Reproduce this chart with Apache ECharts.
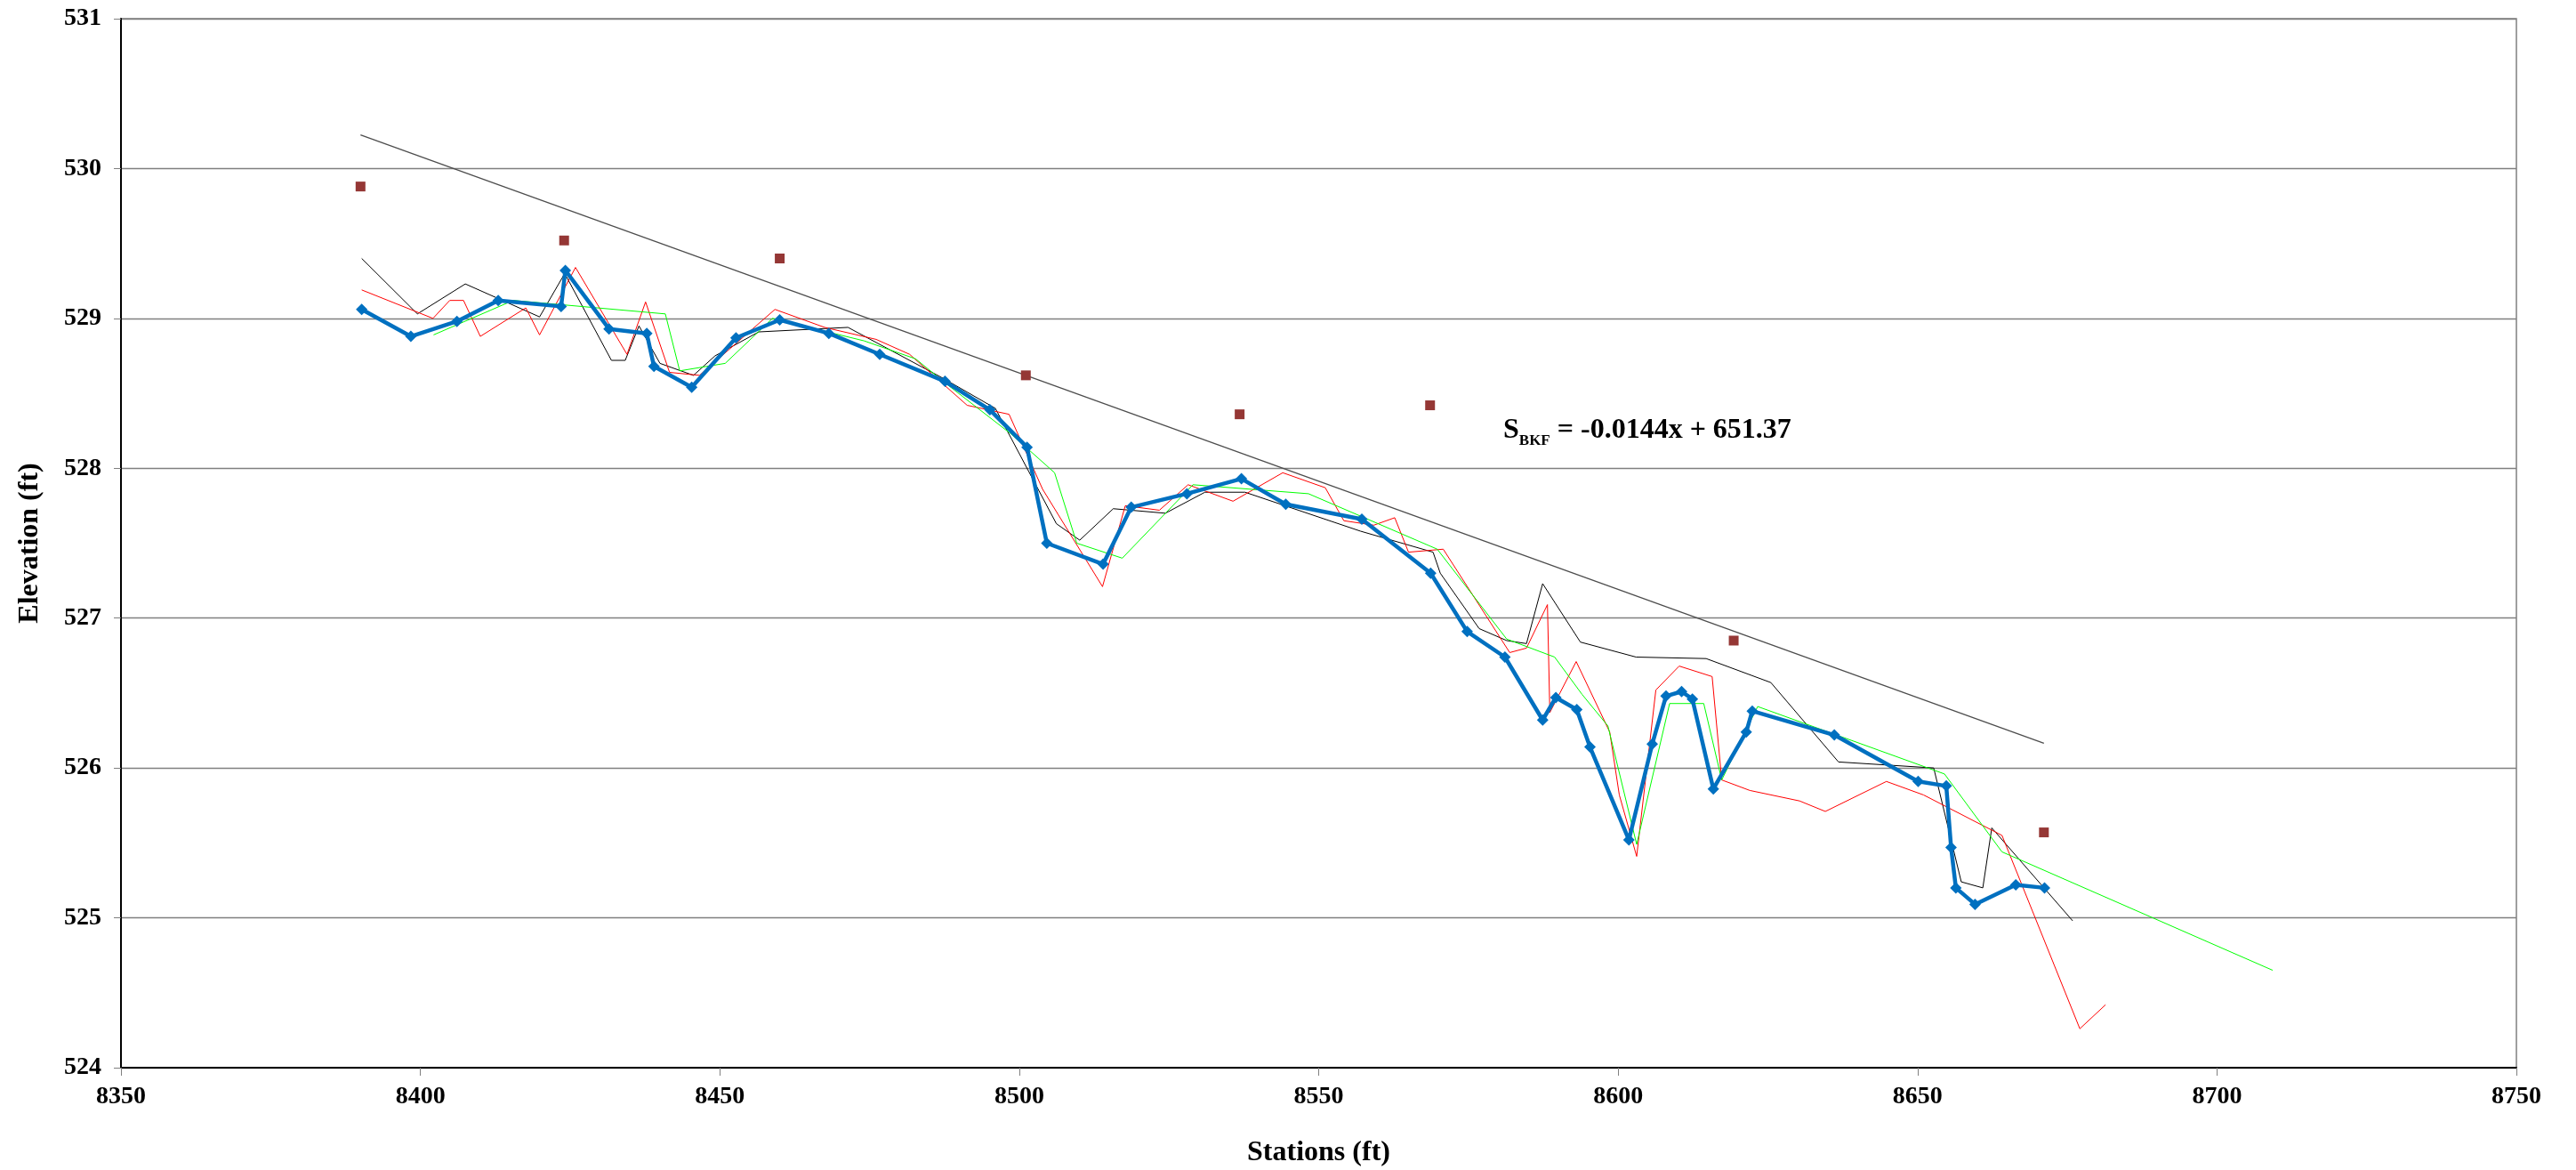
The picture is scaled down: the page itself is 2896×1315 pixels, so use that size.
<!DOCTYPE html>
<html>
<head>
<meta charset="utf-8">
<title>Profile</title>
<script src="https://cdn.jsdelivr.net/npm/echarts@6.0.0/dist/echarts.min.js"></script>
<style>
  html, body { margin: 0; padding: 0; background: #fff; }
  #chart { width: 2896px; height: 1315px; }
</style>
</head>
<body>
<div id="chart"></div>
<script>
// axis ticks
const stationTicks = [8350, 8750, 50]
const elevTicks = [524, 531, 1]

// thalweg (blue, diamonds)
const thalweg = [
  [8390.2, 529.06], [8398.4, 528.88], [8406.1, 528.98], [8413.0, 529.12], [8423.5, 529.08],
  [8424.2, 529.32], [8431.5, 528.93], [8437.8, 528.90], [8439.0, 528.68], [8445.3, 528.54],
  [8452.7, 528.87], [8460.0, 528.99], [8468.2, 528.90], [8476.7, 528.76], [8487.6, 528.58],
  [8495.1, 528.39], [8501.3, 528.14], [8504.6, 527.50], [8514.0, 527.36], [8518.7, 527.74],
  [8528.0, 527.83], [8537.1, 527.93], [8544.5, 527.76], [8557.2, 527.66], [8568.7, 527.30],
  [8574.8, 526.91], [8581.1, 526.74], [8587.4, 526.32], [8589.6, 526.47], [8593.1, 526.39],
  [8595.3, 526.14], [8601.8, 525.52], [8605.7, 526.16], [8608.0, 526.48], [8610.6, 526.51],
  [8612.4, 526.46], [8615.9, 525.86], [8621.4, 526.24], [8622.4, 526.38], [8636.1, 526.22],
  [8650.1, 525.91], [8654.8, 525.88], [8655.6, 525.47], [8656.4, 525.20], [8659.6, 525.09],
  [8666.4, 525.22], [8671.2, 525.20]
]

// older profiles
const profileBlack = [
  [8390.2, 529.40], [8399.5, 529.03], [8407.5, 529.23], [8419.9, 529.01], [8424.1, 529.30],
  [8431.9, 528.72], [8434.2, 528.72], [8436.5, 528.95], [8440.0, 528.70], [8445.6, 528.62],
  [8449.2, 528.75], [8456.5, 528.91], [8471.4, 528.94], [8487.3, 528.60], [8496.0, 528.40],
  [8506.2, 527.63], [8510.1, 527.52], [8515.7, 527.73], [8524.4, 527.70], [8531.0, 527.84],
  [8537.7, 527.84], [8557.0, 527.58], [8569.1, 527.44], [8570.3, 527.30], [8576.8, 526.93],
  [8581.4, 526.85], [8584.7, 526.83], [8587.4, 527.23], [8593.7, 526.84], [8603.0, 526.74],
  [8614.7, 526.73], [8625.5, 526.57], [8636.8, 526.04], [8652.7, 526.00], [8657.3, 525.24],
  [8660.9, 525.20], [8662.4, 525.60], [8675.9, 524.98]
]

const profileRed = [
  [8390.2, 529.19], [8402.1, 529.00], [8404.9, 529.12], [8407.2, 529.12], [8410.0, 528.88],
  [8417.6, 529.07], [8419.9, 528.89], [8425.9, 529.34], [8434.5, 528.76], [8437.6, 529.11],
  [8441.6, 528.64], [8446.6, 528.62], [8459.2, 529.06], [8467.5, 528.94], [8476.1, 528.86],
  [8481.7, 528.76], [8491.3, 528.42], [8498.3, 528.36], [8503.9, 527.86], [8513.9, 527.21],
  [8517.7, 527.75], [8523.4, 527.72], [8528.2, 527.89], [8535.7, 527.78], [8544.0, 527.97],
  [8551.1, 527.87], [8554.2, 527.65], [8559.2, 527.62], [8562.7, 527.67], [8565.0, 527.44],
  [8570.8, 527.46], [8581.9, 526.77], [8584.7, 526.80], [8588.2, 527.09], [8588.6, 526.37],
  [8593.0, 526.71], [8598.6, 526.24], [8600.2, 525.82], [8603.1, 525.41], [8606.3, 526.52],
  [8610.2, 526.68], [8615.7, 526.61], [8617.3, 525.92], [8622.0, 525.85], [8630.3, 525.78],
  [8634.6, 525.71], [8644.8, 525.91], [8651.0, 525.82], [8664.1, 525.55], [8677.1, 524.26],
  [8681.4, 524.42]
]

const profileGreen = [
  [8402.2, 528.89], [8415.5, 529.12], [8440.9, 529.03], [8443.3, 528.65], [8450.9, 528.70],
  [8458.8, 529.00], [8474.1, 528.85], [8482.7, 528.73], [8487.6, 528.57], [8498.6, 528.23],
  [8505.9, 527.97], [8509.6, 527.50], [8517.2, 527.40], [8529.0, 527.89], [8548.3, 527.83],
  [8569.8, 527.46], [8581.4, 526.86], [8589.4, 526.74], [8594.0, 526.49], [8598.3, 526.28],
  [8603.1, 525.49], [8608.6, 526.43], [8614.3, 526.43], [8617.3, 525.92], [8623.3, 526.41],
  [8654.5, 525.96], [8664.1, 525.44], [8709.3, 524.65]
]

// bankfull points (squares)
const bankfull = [
  [8390.0, 529.88], [8424.0, 529.52], [8460.0, 529.40], [8501.1, 528.62],
  [8536.8, 528.36], [8568.6, 528.42], [8619.3, 526.85], [8671.1, 525.57]
]

const trendLabel = ' = -0.0144x + 651.37'

// least squares fit of the bankfull points
function linearFit (pts) {
  const n = pts.length
  const mx = pts.reduce((s, p) => s + p[0], 0) / n
  const my = pts.reduce((s, p) => s + p[1], 0) / n
  let sxy = 0
  let sxx = 0
  pts.forEach(p => {
    sxy += (p[0] - mx) * (p[1] - my)
    sxx += (p[0] - mx) * (p[0] - mx)
  })
  const k = sxy / sxx
  const b = my - k * mx
  const xs = pts.map(p => p[0])
  const x0 = Math.min(...xs)
  const x1 = Math.max(...xs)
  return [[x0, k * x0 + b], [x1, k * x1 + b]]
}

const FONT = "'Liberation Serif', 'Times New Roman', serif"

function initChart () {
  const chart = echarts.init(document.getElementById('chart'), null, { renderer: 'canvas' })
  const option = {
    animation: false,
    backgroundColor: '#fff',
    textStyle: { fontFamily: FONT },
    grid: {
      left: 136,
      right: 67,
      top: 21,
      bottom: 115,
      show: true,
      borderColor: '#808080',
      borderWidth: 1.5,
      outerBoundsMode: 'none'
    },
    xAxis: {
      type: 'value',
      min: stationTicks[0],
      max: stationTicks[1],
      interval: stationTicks[2],
      name: 'Stations (ft)',
      nameLocation: 'middle',
      nameGap: 80,
      nameTextStyle: { fontFamily: FONT, fontWeight: 'bold', fontSize: 32, color: '#000' },
      axisLine: { show: true, lineStyle: { color: '#000', width: 2 } },
      axisTick: { show: true, inside: false, length: 9, lineStyle: { color: '#808080', width: 1 } },
      axisLabel: {
        margin: 19,
        fontFamily: FONT,
        fontWeight: 'bold',
        fontSize: 28,
        color: '#000',
        formatter: v => String(v)
      },
      splitLine: { show: false }
    },
    yAxis: {
      type: 'value',
      min: elevTicks[0],
      max: elevTicks[1],
      interval: elevTicks[2],
      name: 'Elevation (ft)',
      nameLocation: 'middle',
      nameRotate: 90,
      nameGap: 86,
      nameTextStyle: { fontFamily: FONT, fontWeight: 'bold', fontSize: 32, color: '#000' },
      axisLine: { show: true, lineStyle: { color: '#000', width: 2 } },
      axisTick: { show: true, inside: false, length: 8, lineStyle: { color: '#808080', width: 1 } },
      axisLabel: {
        margin: 22,
        fontFamily: FONT,
        fontWeight: 'bold',
        fontSize: 28,
        color: '#000',
        formatter: v => String(v)
      },
      splitLine: { show: true, lineStyle: { color: '#7f7f7f', width: 1.3 } }
    },
    series: [
      {
        name: 'trend',
        type: 'line',
        data: linearFit(bankfull),
        showSymbol: false,
        lineStyle: { color: '#4d4d4d', width: 1.3 },
        z: 2
      },
      {
        name: 'black',
        type: 'line',
        data: profileBlack,
        showSymbol: false,
        lineStyle: { color: '#000', width: 1 },
        z: 3
      },
      {
        name: 'red',
        type: 'line',
        data: profileRed,
        showSymbol: false,
        lineStyle: { color: '#ff0000', width: 1 },
        z: 3
      },
      {
        name: 'green',
        type: 'line',
        data: profileGreen,
        showSymbol: false,
        lineStyle: { color: '#00ff00', width: 1 },
        z: 3
      },
      {
        name: 'thalweg',
        type: 'line',
        data: thalweg,
        symbol: 'diamond',
        symbolSize: 13,
        itemStyle: { color: '#0070c0', opacity: 1 },
        lineStyle: { color: '#0070c0', width: 4.5 },
        z: 5
      },
      {
        name: 'bankfull',
        type: 'scatter',
        data: bankfull,
        symbol: 'rect',
        symbolSize: 11,
        itemStyle: { color: '#953735', opacity: 1 },
        z: 6
      }
    ],
    graphic: [
      {
        type: 'text',
        left: 1690,
        top: 468,
        style: {
          text: '{s|S}{sub|BKF}{t|' + trendLabel + '}',
          rich: {
            s: { fontFamily: FONT, fontWeight: 'bold', fontSize: 32, lineHeight: 40, verticalAlign: 'middle' },
            sub: { fontFamily: FONT, fontWeight: 'bold', fontSize: 17, lineHeight: 16, verticalAlign: 'bottom' },
            t: { fontFamily: FONT, fontWeight: 'bold', fontSize: 32, lineHeight: 40, verticalAlign: 'middle' }
          },
          fill: '#000'
        }
      }
    ]
  }
  chart.setOption(option)
}

initChart()
</script>
</body>
</html>
